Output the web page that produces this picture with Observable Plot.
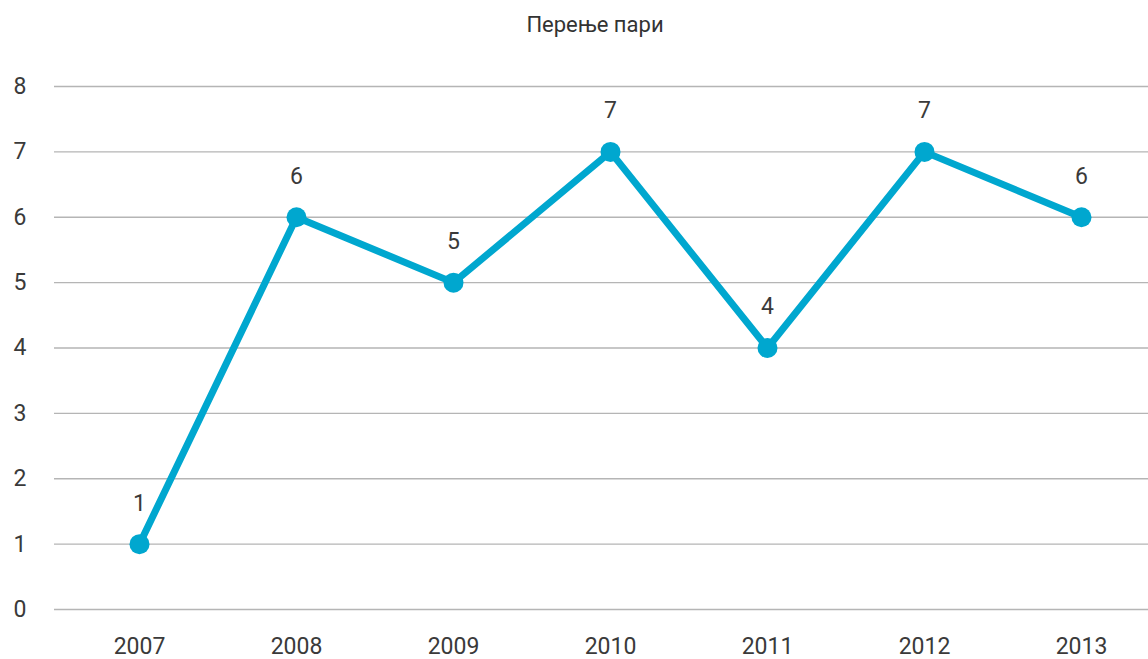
<!DOCTYPE html>
<html><head><meta charset="utf-8">
<script src="https://cdn.jsdelivr.net/npm/d3@7"></script>
<script src="https://cdn.jsdelivr.net/npm/@observablehq/plot@0.6"></script>
<style>
body{margin:0;background:#fff;font-family:"Roboto",sans-serif;}
#title{height:50px;line-height:50px;text-align:center;padding-left:42px;font-size:22px;color:#333;}
</style></head>
<body>
<div id="title">Перење пари</div>
<div id="chart"></div>
<script>
const years = ["2007","2008","2009","2010","2011","2012","2013"];
const values = [1,6,5,7,4,7,6];
const yTicks = [0,1,2,3,4,5,6,7,8];
const data = years.map((y,i)=>({year:y, value:values[i]}));
const color = "#00a7cf";
const chart = Plot.plot({
  width:1148, height:609,
  marginLeft:54, marginRight:0, marginTop:36, marginBottom:50,
  style:{fontFamily:'"Roboto",sans-serif', fontSize:"23px", color:"#3a3a3a"},
  x:{type:"point", domain:years, range:[136,1083], padding:0, label:null, tickSize:0, tickPadding:28},
  y:{domain:[0,8], ticks:yTicks, label:null, tickSize:0, tickPadding:28},
  marks:[
    Plot.ruleY(yTicks,{stroke:"#b5b5b5", strokeWidth:1.3}),
    Plot.line(data,{x:"year", y:"value", stroke:color, strokeWidth:7, strokeLinejoin:"round"}),
    Plot.dot(data,{x:"year", y:"value", r:10, fill:color}),
    Plot.text(data,{x:"year", y:"value", text:d=>String(d.value), dy:-41, fontSize:23, fill:"#3a3a3a"})
  ]
});
document.getElementById("chart").appendChild(chart);
</script>
</body></html>
